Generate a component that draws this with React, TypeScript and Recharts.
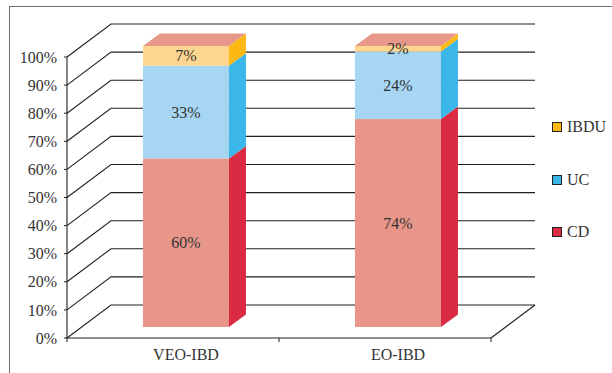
import { BarChart, Bar, XAxis, YAxis, CartesianGrid, Legend, LabelList } from "recharts";

// Distribution of IBD subtypes (%) by age-at-onset group
const categories = ["VEO-IBD", "EO-IBD"];
const cdValues = [60, 74];
const ucValues = [33, 24];
const ibduValues = [7, 2];
const yTicks = [0, 10, 20, 30, 40, 50, 60, 70, 80, 90, 100];

const data = categories.map((name, i) => ({
  name,
  CD: cdValues[i],
  UC: ucValues[i],
  IBDU: ibduValues[i],
}));

const FONT = "'Liberation Serif', 'Times New Roman', serif";
const INK = "#231F20";
const TEXT = "#333333";

const COLORS = {
  CD: { front: "#E8968A", side: "#DA2B43" },
  UC: { front: "#A7D6F3", side: "#3AB6E8" },
  IBDU: { front: "#FED68F", side: "#FDB913" },
};
const TOP_FACE = "#E8978B";

const W = 612;
const H = 373;
const Y_AXIS_W = 67;
const X_AXIS_H = 35;
const PLOT_RIGHT = 491;
const LEGEND_W = 60;
// the legend box is reserved on the right, so leave only the rest as margin
const MARGIN = { top: 57, right: W - PLOT_RIGHT - LEGEND_W, bottom: 0, left: 0 };
const PLOT_BOTTOM = H - MARGIN.bottom - X_AXIS_H;
const PLOT_WIDTH = PLOT_RIGHT - MARGIN.left - Y_AXIS_W;

// 3D offsets: bars sit a little behind the front plane, the wall further back
const BAR_DX = 13;
const BAR_DY = -11;
const DEPTH_DX = 17;
const DEPTH_DY = -12.5;
const WALL_DX = 44;
const WALL_DY = -33;

const makeBox = (side: string, withTop: boolean) => (props: any) => {
  const { x, y, width, height, fill } = props;
  if (!width || height == null) return <g />;
  const fx = x + BAR_DX;
  const fy = y + BAR_DY;
  const sidePts = [
    [fx + width, fy],
    [fx + width + DEPTH_DX, fy + DEPTH_DY],
    [fx + width + DEPTH_DX, fy + height + DEPTH_DY],
    [fx + width, fy + height],
  ];
  const topPts = [
    [fx, fy],
    [fx + width, fy],
    [fx + width + DEPTH_DX, fy + DEPTH_DY],
    [fx + DEPTH_DX, fy + DEPTH_DY],
  ];
  return (
    <g>
      <rect x={fx} y={fy} width={width} height={height} fill={fill} />
      <polygon points={sidePts.map((p) => p.join(",")).join(" ")} fill={side} />
      {withTop && <polygon points={topPts.map((p) => p.join(",")).join(" ")} fill={TOP_FACE} />}
    </g>
  );
};

const renderLabel = (props: any) => {
  const vb = props.viewBox ?? props;
  const { x, y, width, height } = vb;
  return (
    <text
      x={x + width / 2 + BAR_DX}
      y={y + height / 2 + BAR_DY}
      textAnchor="middle"
      dominantBaseline="central"
      fontFamily={FONT}
      fontSize={16}
      fill={TEXT}
    >
      {`${props.value}%`}
    </text>
  );
};

// back wall line plus the receding edge on the left; the floor also gets its right edge
const gridLine = (p: any) => {
  const { x1, y1, x2 } = p;
  const isFloor = Math.abs(y1 - PLOT_BOTTOM) < 0.5;
  return (
    <g key={p.key ?? `h-${p.index}`}>
      <polyline
        points={`${x1},${y1} ${x1 + WALL_DX},${y1 + WALL_DY} ${x2 + WALL_DX},${y1 + WALL_DY}`}
        fill="none"
        stroke={INK}
        strokeWidth={1.1}
      />
      {isFloor && (
        <line x1={x2} y1={y1} x2={x2 + WALL_DX} y2={y1 + WALL_DY} stroke={INK} strokeWidth={1.1} />
      )}
    </g>
  );
};

const CategoryTick = (props: any) => {
  const { x, payload, index } = props;
  const band = PLOT_WIDTH / categories.length;
  const last = index === categories.length - 1;
  return (
    <g>
      <line x1={x - band / 2} y1={PLOT_BOTTOM} x2={x - band / 2} y2={PLOT_BOTTOM + 4} stroke={INK} />
      {last && <line x1={x + band / 2} y1={PLOT_BOTTOM} x2={x + band / 2} y2={PLOT_BOTTOM + 4} stroke={INK} />}
      <text x={x + BAR_DX} y={PLOT_BOTTOM + 22} textAnchor="middle" fontFamily={FONT} fontSize={16} fill={TEXT}>
        {payload.value}
      </text>
    </g>
  );
};

const legendOrder = ["IBDU", "UC", "CD"] as const;

const LegendContent = () => (
  <div style={{ fontFamily: FONT, fontSize: 16, color: TEXT }}>
    {legendOrder.map((k, i) => (
      <div
        key={k}
        style={{ display: "flex", alignItems: "center", height: 20, marginBottom: i < 2 ? 32.5 : 0 }}
      >
        <span
          style={{
            width: 8,
            height: 8,
            background: COLORS[k].side,
            border: `1px solid ${INK}`,
            marginRight: 5,
            display: "inline-block",
          }}
        />
        <span>{k}</span>
      </div>
    ))}
  </div>
);

export default function App() {
  return (
    <div style={{ position: "absolute", left: 0, top: 0, width: W, height: H, background: "#fff", overflow: "hidden" }}>
      <div
        style={{
          position: "absolute",
          left: 9,
          top: 6,
          right: -10,
          bottom: -10,
          borderTop: "1.5px solid #6D6E71",
          borderLeft: "1.5px solid #6D6E71",
        }}
      />
      <BarChart width={W} height={H} data={data} margin={MARGIN} barCategoryGap="29.7%">
        <CartesianGrid vertical={false} horizontal={gridLine} />
        <XAxis
          dataKey="name"
          height={X_AXIS_H}
          axisLine={{ stroke: INK, strokeWidth: 1.1 }}
          tickLine={false}
          tick={<CategoryTick />}
          interval={0}
        />
        <YAxis
          type="number"
          domain={[0, 100]}
          ticks={yTicks}
          interval={0}
          width={Y_AXIS_W}
          tickSize={3}
          tickMargin={7}
          tickFormatter={(v: number) => `${v}%`}
          axisLine={{ stroke: INK, strokeWidth: 1.1 }}
          tickLine={{ stroke: INK }}
          tick={{ fill: TEXT, fontSize: 16, fontFamily: FONT }}
        />
        <Legend
          layout="horizontal"
          verticalAlign="middle"
          align="right"
          wrapperStyle={{ left: 552, top: 117, width: LEGEND_W }}
          content={<LegendContent />}
        />
        <Bar dataKey="CD" stackId="a" fill={COLORS.CD.front} shape={makeBox(COLORS.CD.side, false)} isAnimationActive={false}>
          <LabelList dataKey="CD" content={renderLabel} />
        </Bar>
        <Bar dataKey="UC" stackId="a" fill={COLORS.UC.front} shape={makeBox(COLORS.UC.side, false)} isAnimationActive={false}>
          <LabelList dataKey="UC" content={renderLabel} />
        </Bar>
        <Bar dataKey="IBDU" stackId="a" fill={COLORS.IBDU.front} shape={makeBox(COLORS.IBDU.side, true)} isAnimationActive={false}>
          <LabelList dataKey="IBDU" content={renderLabel} />
        </Bar>
      </BarChart>
    </div>
  );
}
